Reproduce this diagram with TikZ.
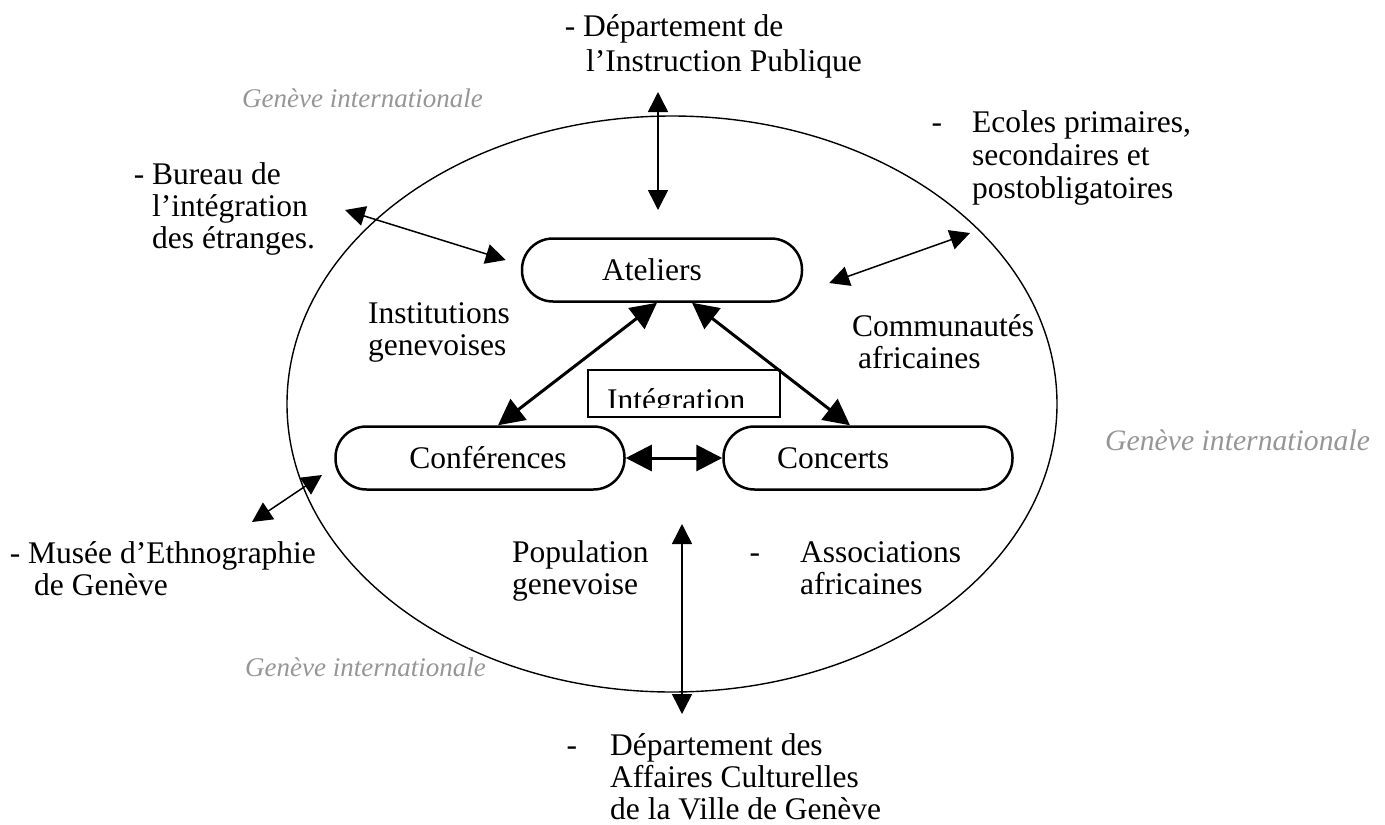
\documentclass[tikz,border=0pt]{standalone}
\usepackage{fontspec}
\setmainfont{Liberation Serif}
\usetikzlibrary{arrows.meta}
\definecolor{genevegray}{RGB}{150,150,150}
\tikzset{
  roundbox/.style={draw, line width=2.5pt, rounded corners=31pt,
    minimum width=289pt, minimum height=63pt, inner sep=0pt,
    font=\fontsize{31.5}{32}\selectfont},
  lbl/.style={inner sep=0pt, anchor=base west, align=left,
    font=\fontsize{31.5}{32}\selectfont},
  greylbl/.style={lbl, text=genevegray, font=\fontsize{27}{32}\selectfont\itshape},
  thin arrow/.style={{Triangle[length=20pt,width=20pt]}-{Triangle[length=20pt,width=20pt]},
    line width=1.5pt},
  thick arrow/.style={{Triangle[length=26pt,width=26pt]}-{Triangle[length=26pt,width=26pt]},
    line width=3pt},
}
\begin{document}
\begin{tikzpicture}[x=1pt,y=-1pt]
  \useasboundingbox (0,0) rectangle (1385,825);

  % Ellipse
  \draw[line width=1.4pt] (672,404) ellipse [x radius=385, y radius=288];

  % Boxes
  \node[roundbox, minimum width=280pt] (ateliers) at (662,270) {\hspace*{-20pt}Ateliers};
  \node[roundbox] (conf) at (480,458) {\hspace*{16pt}Conférences};
  \node[roundbox] (concerts) at (868,458) {\hspace*{-70pt}Concerts};

  % Integration (text cut by the frame)
  \begin{scope}
    \clip (588,370) rectangle (780,407);
    \node[lbl] (integtext) at (607,410) {Intégration};
  \end{scope}
  \node[draw, line width=1.5pt, minimum width=192pt, minimum height=47pt,
    inner sep=0pt] (integ) at (684,393.5) {};

  % Labels (anchored at the last line)
  \node[lbl] (dip) at (583,71) {\llap{- }Département de\\[3pt]\hspace*{3pt}l’Instruction Publique};
  \node[lbl] (bureau) at (152,248) {\llap{- }Bureau de\\l’intégration\\des étranges.};
  \node[lbl] (ecoles) at (972,198) {\llap{-\hspace{30pt}}Ecoles primaires,\\[1pt]secondaires et\\[1pt]postobligatoires};
  \node[lbl] (inst) at (368,355) {Institutions\\genevoises};
  \node[lbl] (comm) at (852,368) {Communautés\\\hspace*{6pt}africaines};
  \node[lbl] (musee) at (28,595) {\llap{- }Musée d’Ethnographie\\\hspace*{6pt}de Genève};
  \node[lbl] (pop) at (512,594) {Population\\genevoise};
  \node[lbl] (assoc) at (800,594) {\llap{-\hspace{40pt}}Associations\\africaines};
  \node[lbl] (dac) at (610,819) {\llap{-\hspace{33pt}}Département des\\Affaires Culturelles\\de la Ville de Genève};

  % Geneve internationale
  \node[greylbl] (gi1) at (242,107) {Genève internationale};
  \node[greylbl, font=\fontsize{29.7}{32}\selectfont\itshape] (gi2) at (1105,450) {Genève internationale};
  \node[greylbl] (gi3) at (245,676) {Genève internationale};

  % Arrows between boxes
  \draw[thick arrow] ([xshift=-5pt]ateliers.south) -- ([xshift=18pt]conf.north);
  \draw[thick arrow] ([xshift=30pt]ateliers.south) -- ([xshift=-18pt]concerts.north);
  \draw[thick arrow] (conf.east) -- (concerts.west);

  % Arrows to the partners
  \coordinate (dipA) at (658,92);
  \coordinate (dipB) at (658,210);
  \draw[thin arrow] (dipA) -- (dipB);
  \coordinate (bureauA) at (345,210);
  \draw[thin arrow] (bureauA) -- ([xshift=-15pt,yshift=10pt]ateliers.west);
  \coordinate (ecolesA) at (970,233);
  \draw[thin arrow] ([xshift=26pt,yshift=-13pt]ateliers.east) -- (ecolesA);
  \coordinate (museeA) at (252,522);
  \coordinate (museeB) at (322,475);
  \draw[thin arrow] (museeA) -- (museeB);
  \coordinate (dacA) at (682,524);
  \coordinate (dacB) at (682,714);
  \draw[thin arrow] (dacA) -- (dacB);
\end{tikzpicture}
\end{document}
